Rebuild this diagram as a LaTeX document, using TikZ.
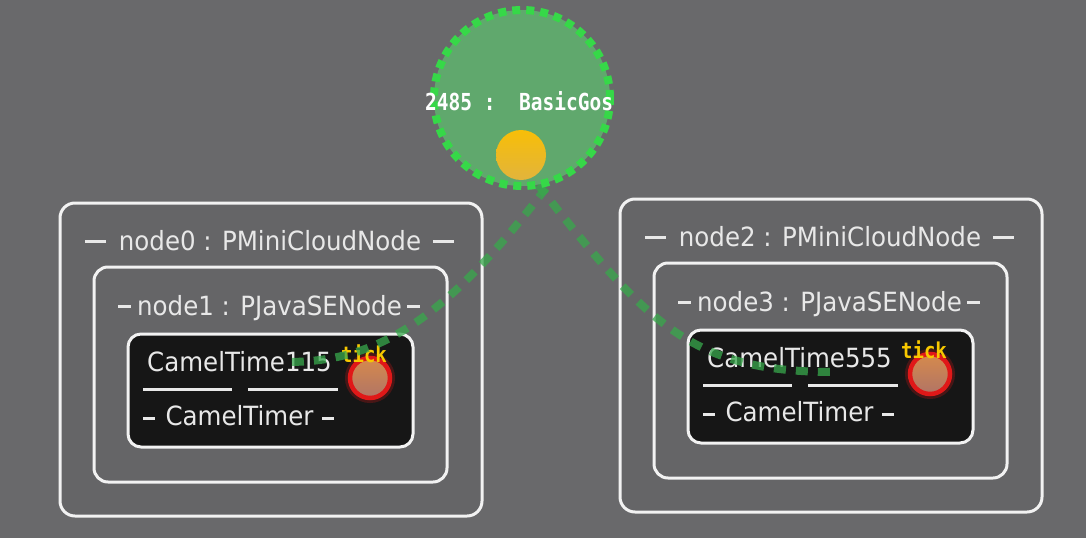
\documentclass[tikz,border=0pt]{standalone}
\usepackage{fontspec}
\setmainfont{DejaVu Sans}
\newfontfamily\mymono{DejaVu Sans Mono}
\definecolor{bgc}{HTML}{69696B}
\definecolor{boxfill}{HTML}{656567}
\definecolor{boxline}{HTML}{F2F2F2}
\definecolor{txt}{HTML}{E8E8E8}
\definecolor{blk}{HTML}{161616}
\definecolor{portred}{HTML}{E01818}
\definecolor{porttop}{HTML}{D68A4C}
\definecolor{portbot}{HTML}{B07466}
\definecolor{tickc}{HTML}{F8C800}
\definecolor{gfill}{HTML}{60AE6E}
\definecolor{gdot}{HTML}{36D848}
\definecolor{linkg}{HTML}{38A84C}
\definecolor{toktop}{HTML}{F7BE08}
\definecolor{tokbot}{HTML}{E2B43C}
\tikzset{
  outerbox/.style={rectangle, draw=boxline, line width=3pt, fill=boxfill, rounded corners=15pt, inner sep=0pt},
  innerbox/.style={outerbox, rounded corners=14pt},
  blackbox/.style={rectangle, draw=boxline, line width=3pt, fill=blk, rounded corners=13pt, inner sep=0pt},
  lbl/.style={text=txt, font=\fontsize{24.5}{28}\selectfont, anchor=base, inner sep=0pt},
  dashl/.style={draw=txt, line width=3pt},
  tickl/.style={text=tickc, font=\mymono\bfseries\fontsize{19}{20}\selectfont, anchor=base, inner sep=0pt},
  port/.style={circle, draw=portred, line width=4.5pt, top color=porttop, bottom color=portbot, minimum size=40pt, inner sep=0pt,
    preaction={draw=portred, line width=10pt, opacity=0.25}},
  link/.style={draw=linkg, line width=8pt, dash pattern=on 12pt off 10pt, opacity=0.75},
  gossipc/.style={circle, fill=gfill, fill opacity=0.92, draw=gdot, line width=8pt, dash pattern=on 8pt off 6pt, minimum size=176pt, inner sep=0pt},
  token/.style={circle, top color=toktop, bottom color=tokbot, minimum size=50pt, inner sep=0pt},
  glbl/.style={text=white, font=\mymono\bfseries\fontsize{19.5}{22}\selectfont, anchor=base west, inner sep=0pt},
}
\begin{document}
\begin{tikzpicture}[x=1pt,y=-1pt]
\fill[bgc] (0,0) rectangle (1086,538);
\useasboundingbox (0,0) rectangle (1086,538);

% ---------- left component ----------
\node[outerbox, minimum width=422pt, minimum height=313pt] (n0) at (271,359.5) {};
\node[lbl] (n0t) at (270,250) {\scalebox{1}[1.08]{node0 : PMiniCloudNode}};
\draw[dashl] (85,241) -- (106,241);
\draw[dashl] (433,241) -- (454,241);
\node[innerbox, minimum width=353pt, minimum height=215pt] (n1) at (270.5,374.5) {};
\node[lbl] (n1t) at (269.5,315) {\scalebox{1}[1.08]{node1 : PJavaSENode}};
\draw[dashl] (118,306) -- (131,306);
\draw[dashl] (407,306) -- (420,306);
\node[blackbox, minimum width=285pt, minimum height=113pt] (c1) at (270.5,390.5) {};
\node[lbl, anchor=base west] (c1t) at (147,371) {\scalebox{1}[1.08]{CamelTime115}};
\draw[dashl] (143,389) -- (232,389);
\draw[dashl] (248,389) -- (338,389);
\node[lbl] (c1k) at (239.5,425) {\scalebox{1}[1.08]{CamelTimer}};
\draw[dashl] (143,418) -- (155,418);
\draw[dashl] (322,418) -- (334,418);
\node[port] (p1) at (370,378) {};
\node[tickl] (t1) at (364,362) {\scalebox{1}[1.15]{tick}};

% ---------- right component ----------
\node[outerbox, minimum width=422pt, minimum height=313pt] (n2) at (831,355.5) {};
\node[lbl] (n2t) at (830,246) {\scalebox{1}[1.08]{node2 : PMiniCloudNode}};
\draw[dashl] (645,237) -- (666,237);
\draw[dashl] (993,237) -- (1014,237);
\node[innerbox, minimum width=353pt, minimum height=215pt] (n3) at (830.5,370.5) {};
\node[lbl] (n3t) at (829.5,311) {\scalebox{1}[1.08]{node3 : PJavaSENode}};
\draw[dashl] (678,302) -- (691,302);
\draw[dashl] (967,302) -- (980,302);
\node[blackbox, minimum width=285pt, minimum height=113pt] (c3) at (830.5,386.5) {};
\node[lbl, anchor=base west] (c3t) at (707,367) {\scalebox{1}[1.08]{CamelTime555}};
\draw[dashl] (703,385) -- (792,385);
\draw[dashl] (808,385) -- (898,385);
\node[lbl] (c3k) at (799.5,421) {\scalebox{1}[1.08]{CamelTimer}};
\draw[dashl] (703,414) -- (715,414);
\draw[dashl] (882,414) -- (894,414);
\node[port] (p3) at (930,374) {};
\node[tickl] (t3) at (924,358) {\scalebox{1}[1.15]{tick}};

% ---------- gossip links ----------
\coordinate (gL) at (546,188);
\coordinate (gR) at (538,185);
\coordinate (eL) at (287,362);
\coordinate (eR) at (835,372);
\draw[link] (gL) .. controls (446,318) and (380,362) .. (eL);
\draw[link] (gR) .. controls (648,324) and (690,372) .. (eR);

% ---------- gossip group ----------
\node[gossipc] (gossip) at (522,98) {};
\node[glbl] (glab) at (425,110) {\scalebox{1}[1.2]{2485 :\ \ BasicGos}};
\node[token] (tok) at (521,155) {};
\end{tikzpicture}
\end{document}
